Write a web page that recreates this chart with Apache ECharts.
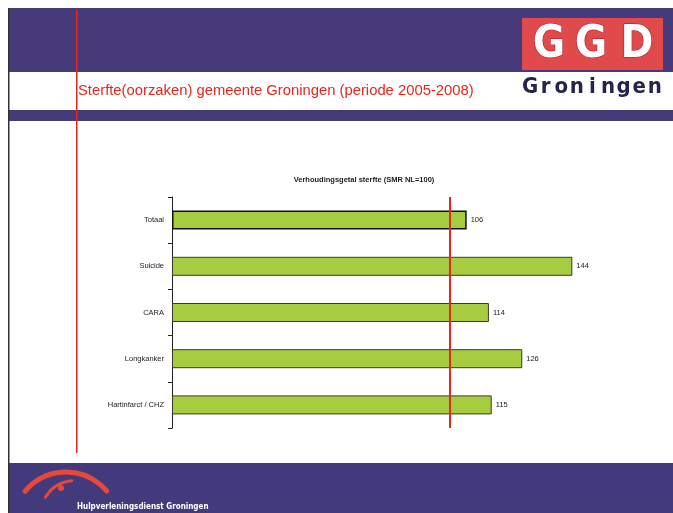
<!DOCTYPE html>
<html>
<head>
<meta charset="utf-8">
<script src="https://cdn.jsdelivr.net/npm/echarts@6/dist/echarts.min.js"></script>
<style>
  html, body { margin: 0; padding: 0; background: #fff; }
  #main { width: 673px; height: 513px; }
</style>
</head>
<body>
<div id="main"></div>
<script>
// chart data
var categories = ['Totaal', 'Suicide', 'CARA', 'Longkanker', 'Hartinfarct / CHZ'];
var smr = [106, 144, 114, 126, 115];
var refValue = 100;

var purple = '#463a7a';
var myChart = echarts.init(document.getElementById('main'));

// letter-spaced "Groningen" under the logo
var brand = 'Groningen'.split('');
var brandTexts = [];
for (var i = 0; i < brand.length; i++) {
  brandTexts.push({
    type: 'text', x: 530 + i * 15.6, y: 87,
    style: { text: brand[i], fill: '#25244a', align: 'center', verticalAlign: 'middle',
             font: 'bold 22px "DejaVu Sans Condensed", sans-serif' }
  });
}

var logoFont = 'bold 44px "DejaVu Sans Condensed", sans-serif';

var option = {
  animation: false,
  title: {
    text: 'Verhoudingsgetal sterfte (SMR NL=100)',
    left: 359, top: 171, textAlign: 'center',
    textStyle: { fontSize: 7.5, fontWeight: 'bold', color: '#222', fontFamily: 'Liberation Sans, Arial' }
  },
  grid: { left: 172, top: 197, width: 417, height: 231 },
  xAxis: {
    type: 'value', min: 0, max: 150, show: false
  },
  yAxis: {
    type: 'category',
    data: categories,
    inverse: true,
    axisLine: { lineStyle: { color: '#222', width: 1 } },
    axisTick: { show: true, length: 4, lineStyle: { color: '#222' } },
    axisLabel: { fontSize: 7.5, color: '#222', margin: 8, fontFamily: 'Liberation Sans, Arial' }
  },
  series: [{
    type: 'bar',
    data: smr.map(function (v, i) {
      return {
        value: v,
        itemStyle: i === 0 ? { borderColor: '#111', borderWidth: 1.5 } : {}
      };
    }),
    barWidth: 19,
    itemStyle: { color: '#a6cc40', borderColor: '#3a3a2a', borderWidth: 1 },
    label: {
      show: true, position: 'right', distance: 4,
      fontSize: 7.5, color: '#222', fontFamily: 'Liberation Sans, Arial'
    },
    markLine: {
      silent: true, symbol: 'none', label: { show: false },
      lineStyle: { color: '#e8261c', width: 2, type: 'solid' },
      data: [{ xAxis: refValue }]
    },
    z: 3
  }],
  graphic: [
    // page frame / bands
    { type: 'rect', shape: { x: 9, y: 8, width: 664, height: 64 }, style: { fill: purple }, z: -10 },
    { type: 'rect', shape: { x: 9, y: 110, width: 664, height: 11 }, style: { fill: purple }, z: -10 },
    { type: 'rect', shape: { x: 9, y: 463, width: 664, height: 50 }, style: { fill: '#423a7a' }, z: -10 },
    { type: 'rect', shape: { x: 8, y: 8, width: 1.5, height: 505 }, style: { fill: '#333' }, z: -9 },
    // vertical red rule
    { type: 'rect', shape: { x: 76, y: 10, width: 1.5, height: 443 }, style: { fill: '#e8261c' }, z: 5 },
    // slide title
    { type: 'text', x: 78, y: 91,
      style: { text: 'Sterfte(oorzaken) gemeente Groningen (periode 2005-2008)', fill: '#e8261c',
               verticalAlign: 'middle', font: '14.8px "Liberation Sans", Arial, sans-serif' } },
    // GGD logo
    { type: 'rect', shape: { x: 522, y: 18, width: 141, height: 52 }, style: { fill: '#e04a4a' }, z: -5 },
    { type: 'text', x: 549, y: 46, style: { text: 'G', fill: '#fff', stroke: '#b01020', lineWidth: 1, align: 'center', verticalAlign: 'middle', font: logoFont } },
    { type: 'text', x: 591, y: 46, style: { text: 'G', fill: '#fff', stroke: '#b01020', lineWidth: 1, align: 'center', verticalAlign: 'middle', font: logoFont } },
    { type: 'text', x: 637, y: 46, style: { text: 'D', fill: '#fff', stroke: '#b01020', lineWidth: 1, align: 'center', verticalAlign: 'middle', font: logoFont } }
  ].concat(brandTexts).concat([
    // footer logo arcs
    { type: 'arc', shape: { cx: 66, cy: 525, r: 53, startAngle: 3.83, endAngle: 5.59, clockwise: true },
      style: { stroke: '#e8483c', lineWidth: 5, fill: null, lineCap: 'round' } },
    { type: 'arc', shape: { cx: 75, cy: 515, r: 34.5, startAngle: 3.68, endAngle: 4.62, clockwise: true },
      style: { stroke: '#e8483c', lineWidth: 3, fill: null, lineCap: 'round' } },
    { type: 'circle', shape: { cx: 61, cy: 488, r: 3 }, style: { fill: '#e8483c' } },
    { type: 'text', x: 77, y: 507,
      style: { text: 'Hulpverleningsdienst Groningen', fill: '#fff', verticalAlign: 'middle',
               font: 'bold 8px "DejaVu Sans Condensed", sans-serif' } }
  ])
};

myChart.setOption(option);
</script>
</body>
</html>
